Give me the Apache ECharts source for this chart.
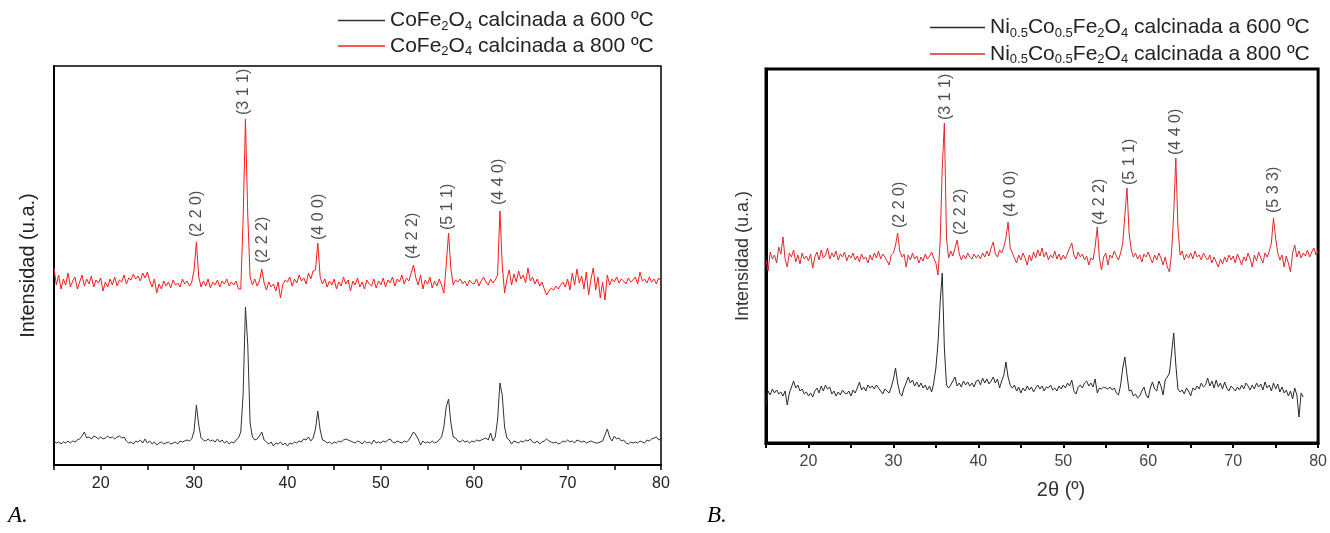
<!DOCTYPE html>
<html><head><meta charset="utf-8">
<script src="https://cdn.jsdelivr.net/npm/echarts@6/dist/echarts.min.js"></script>
<style>html,body{margin:0;padding:0;background:#fff}#c{width:1330px;height:533px}</style>
</head><body><div id="c"></div>
<script>
// 2θ sampling of the digitised patterns
const START = 15, STEP = 0.25;

// Panel A: CoFe2O4
const aBlack600 = [
24,22,23,21,23,22,24,22,24,23,25,26,29,33,27,28,26,29,28,26,
28,26,27,29,27,28,26,28,29,27,28,24,22,23,21,24,23,25,22,26,
22,24,21,23,20,22,23,21,22,23,21,22,23,21,24,23,24,25,24,26,
34,60,40,27,25,24,26,24,25,23,26,23,25,22,24,21,23,22,25,27,
33,70,158,120,42,28,25,26,29,33,25,23,21,23,19,22,21,23,20,22,
19,22,21,23,22,24,23,26,25,28,24,27,36,54,35,25,24,22,23,21,
23,22,24,23,25,26,25,24,23,22,24,23,21,24,22,23,21,25,22,23,
22,24,23,25,26,23,22,24,23,22,24,23,25,29,33,30,26,20,24,22,
23,22,24,22,23,25,28,38,58,66,42,28,27,24,23,25,23,24,22,24,
23,25,24,25,26,27,25,32,24,28,45,82,70,38,27,25,21,24,23,22,
24,23,25,24,26,23,22,24,21,23,24,26,24,23,22,23,21,22,24,23,
25,23,24,22,25,24,23,24,22,23,24,23,22,22,23,24,30,36,28,24,
29,26,27,24,25,22,21,23,22,23,22,24,23,22,25,24,26,27,28,25,
26];
const aRed800 = [
197,180,190,176,186,180,192,178,184,188,176,183,190,179,186,181,189,178,185,182,
187,174,183,178,186,180,188,179,185,183,190,181,187,185,191,186,189,184,192,187,
193,184,178,186,172,181,176,184,179,183,177,185,180,182,178,186,181,184,179,183,
195,223,188,178,184,179,186,177,183,180,185,178,184,181,186,179,183,180,184,176,
176,245,346,250,188,180,186,179,184,196,182,175,183,178,181,174,183,167,180,185,
183,188,179,186,182,190,184,187,181,192,186,194,195,222,188,181,186,178,184,180,
186,176,183,179,188,181,185,174,184,180,187,178,183,176,185,181,179,186,177,184,
180,187,178,185,182,188,179,186,183,190,181,187,184,192,200,187,180,190,176,185,
181,188,177,184,179,186,180,172,200,232,196,180,185,183,186,181,184,179,185,182,
181,186,179,184,188,183,180,186,182,185,190,254,200,172,186,195,180,191,183,194,
186,190,182,197,184,188,181,186,179,183,176,170,174,177,175,179,176,180,183,178,
186,175,192,180,196,182,189,176,193,170,186,197,175,188,167,183,165,190,180,186,
183,188,182,186,184,181,187,183,185,188,181,193,184,186,182,188,183,186,181,187,
184];
const aPeakLabels = ['(2 2 0)','(3 1 1)','(2 2 2)','(4 0 0)','(4 2 2)','(5 1 1)','(4 4 0)'];
const aPeakX = [30.3, 35.3, 37.3, 43.3, 53.4, 57.2, 62.6];
const aPeakY = [228, 350, 202, 225, 206, 235, 260];
const aTicks = [20, 30, 40, 50, 60, 70, 80];

// Panel B: Ni0.5Co0.5Fe2O4
const bBlack600 = [
38,52,48,54,50,53,49,51,47,52,38,50,56,62,55,58,52,54,49,51,
47,50,46,52,55,50,57,52,58,54,56,49,52,47,51,48,53,50,49,52,
47,53,50,55,61,53,56,52,58,55,57,54,58,55,52,49,54,52,50,56,
64,75,60,50,47,55,60,66,60,63,57,61,56,60,55,58,53,57,51,60,
75,100,140,170,95,58,55,58,62,66,57,60,56,62,58,61,57,60,56,62,
63,58,65,60,64,59,62,66,60,64,55,62,68,81,66,58,55,58,52,56,
50,55,52,57,53,56,51,55,58,54,57,52,56,55,58,53,55,52,57,54,
58,55,60,57,63,52,49,56,58,55,60,62,57,60,56,64,50,55,54,56,
55,54,56,53,55,50,48,58,75,86,68,52,53,47,49,45,47,52,56,48,
45,55,61,54,52,62,57,48,63,66,70,90,110,78,54,51,53,49,55,52,
47,55,53,57,54,60,56,58,65,57,62,55,63,56,60,54,61,55,52,57,
55,52,56,53,58,54,60,57,53,58,54,60,56,59,53,61,55,58,52,60,
54,59,51,56,50,53,47,52,44,55,48,26,50,46];
const bRed800 = [
183,172,191,184,188,180,196,189,206,184,176,190,186,193,181,188,179,190,184,187,
182,189,175,186,191,183,193,185,188,195,184,190,186,192,183,189,186,191,182,188,
185,190,183,187,181,189,184,186,180,188,183,190,185,192,184,189,186,182,178,188,
190,198,210,192,186,189,176,188,183,190,184,187,180,186,182,189,184,187,191,185,
180,168,200,275,320,205,185,192,187,195,203,189,183,188,184,190,186,184,189,185,
188,184,190,186,192,187,195,201,189,186,193,190,196,205,221,195,190,185,180,188,
183,190,185,178,188,182,191,185,193,187,195,186,191,183,188,185,192,184,189,183,
188,184,190,195,200,188,184,191,186,189,183,187,178,185,183,196,216,185,173,186,
190,178,188,185,192,187,183,190,200,228,255,210,193,186,190,184,188,181,189,186,
191,185,180,188,183,190,185,178,186,176,171,190,230,285,215,188,192,183,189,185,
190,184,192,186,188,183,190,186,183,188,180,186,181,176,184,179,186,181,188,183,
187,180,189,184,178,186,182,190,184,176,188,182,191,185,180,190,186,192,200,225,
205,190,183,188,176,187,180,171,190,198,186,192,185,190,187,193,186,191,195,188,
192];
const bPeakLabels = ['(2 2 0)','(3 1 1)','(2 2 2)','(4 0 0)','(4 2 2)','(5 1 1)','(4 4 0)','(5 3 3)'];
const bPeakX = [30.7, 36.2, 37.9, 43.8, 54.3, 57.8, 63.2, 74.8];
const bPeakY = [215, 323, 208, 226, 218, 258, 288, 230];

const legendA = {
  'A600': '{n|CoFe}{s|2}{n|O}{s|4}{n| calcinada a 600 ºC}',
  'A800': '{n|CoFe}{s|2}{n|O}{s|4}{n| calcinada a 800 ºC}'
};
const legendB = {
  'B600': '{n|Ni}{s|0.5}{n|Co}{s|0.5}{n|Fe}{s|2}{n|O}{s|4}{n| calcinada a 600 ºC}',
  'B800': '{n|Ni}{s|0.5}{n|Co}{s|0.5}{n|Fe}{s|2}{n|O}{s|4}{n| calcinada a 800 ºC}'
};

function pairs(arr) { return arr.map((v, i) => [START + i * STEP, v]); }
function peaks(xs, ys) { return xs.map((x, i) => [x, ys[i]]); }

const FONT = '"Liberation Sans", Arial, sans-serif';
const chart = echarts.init(document.getElementById('c'), null, { renderer: 'canvas' });

function xAxisFor(grid, lw, labelColor) {
  return {
    type: 'value', gridIndex: grid, min: 15, max: 80, interval: 5,
    axisLine: { show: true, onZero: false, lineStyle: { color: '#000', width: lw } },
    axisTick: { show: true, inside: false, length: 5, lineStyle: { color: '#000', width: lw > 2 ? 2 : 1.5 } },
    axisLabel: { fontFamily: FONT, fontSize: 16, color: labelColor, margin: 11,
      formatter: v => (aTicks.indexOf(v) >= 0 ? String(v) : '') },
    splitLine: { show: false }
  };
}
function yAxisFor(grid, max, lw, gap, fs, nameColor) {
  return {
    type: 'value', gridIndex: grid, min: 0, max: max,
    name: 'Intensidad (u.a.)', nameLocation: 'middle', nameRotate: 90, nameGap: gap,
    nameTextStyle: { fontFamily: FONT, fontSize: fs, color: nameColor },
    axisLine: { show: true, onZero: false, lineStyle: { color: '#000', width: lw } },
    axisTick: { show: false }, axisLabel: { show: false }, splitLine: { show: false }
  };
}
function legendFor(map, left, top, iw, fs, gap) {
  return {
    left: left, top: top, orient: 'vertical', icon: 'rect', itemWidth: iw, itemHeight: 1.5,
    itemGap: gap, data: Object.keys(map),
    formatter: name => map[name],
    textStyle: { fontFamily: FONT, color: '#222', fontSize: fs,
      rich: { n: { fontFamily: FONT, fontSize: fs, color: '#222', lineHeight: 24 },
              s: { fontFamily: FONT, fontSize: Math.round(fs * 0.62), color: '#222', verticalAlign: 'bottom' } } }
  };
}
function lineSeries(name, data, xi, color, w) {
  return { name: name, type: 'line', xAxisIndex: xi, yAxisIndex: xi, data: data, symbol: 'none',
    lineStyle: { color: color, width: w }, itemStyle: { color: color }, animation: false, silent: true };
}
function labelSeries(data, texts, xi, fs) {
  return { type: 'scatter', xAxisIndex: xi, yAxisIndex: xi, data: data, symbolSize: 1,
    itemStyle: { color: 'rgba(0,0,0,0)' }, silent: true, animation: false,
    label: { show: true, position: 'inside', rotate: 90, align: 'left', verticalAlign: 'middle',
      fontFamily: FONT, fontSize: fs, color: '#222', formatter: p => texts[p.dataIndex] } };
}

chart.setOption({
  backgroundColor: '#fff',
  animation: false,
  grid: [
    { left: 54, top: 66, width: 607, height: 399, show: true, borderColor: '#000', borderWidth: 1.5, backgroundColor: 'transparent' },
    { left: 766, top: 69, width: 557, height: 374, show: true, borderColor: '#000', borderWidth: 3, backgroundColor: 'transparent' }
  ],
  xAxis: [
    xAxisFor(0, 2, '#222'),
    Object.assign(xAxisFor(1, 3, '#444'), { name: '2θ (º)', nameLocation: 'middle', nameGap: 37,
      nameTextStyle: { fontFamily: FONT, fontSize: 20, color: '#333', padding: [0, 0, 0, 38] } })
  ],
  yAxis: [
    yAxisFor(0, 399, 2, 16, 20, '#222'),
    yAxisFor(1, 374, 3, 14, 18, '#333')
  ],
  legend: [
    legendFor(legendA, 333, 5, 47, 21, 3),
    legendFor(legendB, 925, 12, 55, 21, 4)
  ],
  series: [
    lineSeries('A600', pairs(aBlack600), 0, '#333', 1),
    lineSeries('A800', pairs(aRed800), 0, '#ff1a1a', 1),
    labelSeries(peaks(aPeakX, aPeakY), aPeakLabels, 0, 16),
    lineSeries('B600', pairs(bBlack600), 1, '#2a2a2a', 1),
    lineSeries('B800', pairs(bRed800), 1, '#e3262c', 1),
    labelSeries(peaks(bPeakX, bPeakY), bPeakLabels, 1, 16)
  ],
  graphic: [
    { type: 'text', left: 8, top: 504, style: { text: 'A.', font: 'italic 23px "Liberation Serif", "DejaVu Serif", serif', fill: '#000' } },
    { type: 'text', left: 707, top: 504, style: { text: 'B.', font: 'italic 23px "Liberation Serif", "DejaVu Serif", serif', fill: '#000' } }
  ]
});
</script>
</body></html>
